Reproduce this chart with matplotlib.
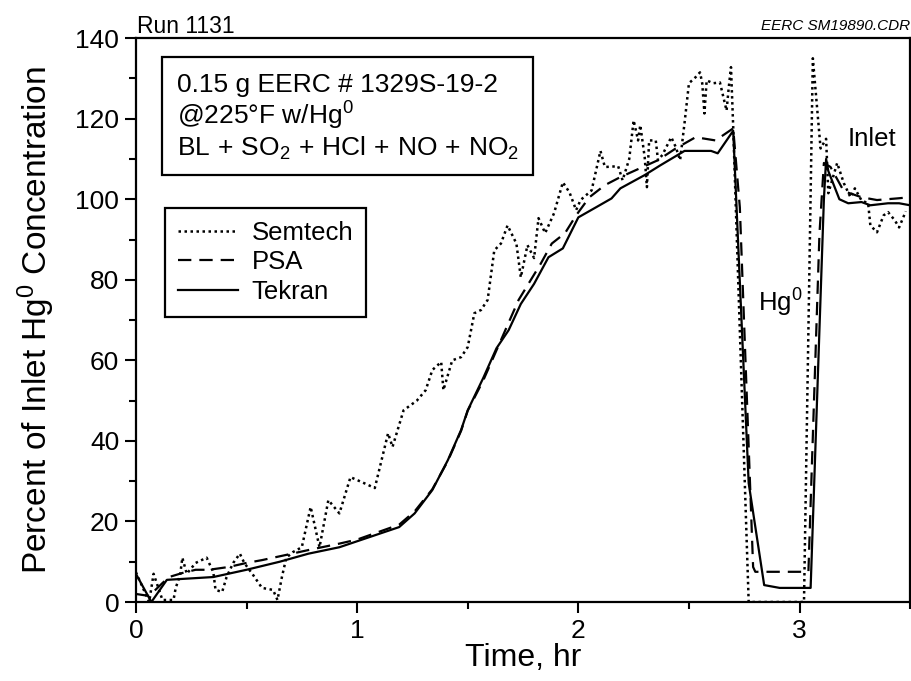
import matplotlib
matplotlib.use('Agg')
import matplotlib.pyplot as plt
from matplotlib.patches import Rectangle
from matplotlib.ticker import MultipleLocator

plt.rcParams['font.family'] = ['Liberation Sans', 'DejaVu Sans']
plt.rcParams['mathtext.fontset'] = 'custom'
plt.rcParams['mathtext.rm'] = 'Liberation Sans'
plt.rcParams['mathtext.it'] = 'Liberation Sans:italic'

# Semtech (dotted)
semtech_t = [0.0, 0.06, 0.08, 0.12, 0.17, 0.18, 0.2, 0.21, 0.23, 0.27,
             0.32, 0.35, 0.36, 0.39, 0.41, 0.44, 0.47, 0.49, 0.53, 0.57,
             0.62, 0.64, 0.66, 0.68, 0.71, 0.75, 0.79, 0.83, 0.87, 0.92,
             0.97, 1.02, 1.08, 1.14, 1.16, 1.21, 1.27, 1.31, 1.34, 1.38,
             1.39, 1.43, 1.47, 1.50, 1.53, 1.56, 1.59, 1.62, 1.65, 1.68,
             1.72, 1.74, 1.77, 1.80, 1.82, 1.85, 1.89, 1.93, 1.96, 1.99,
             2.01, 2.06, 2.10, 2.12, 2.18, 2.20, 2.23, 2.25, 2.27, 2.28,
             2.30, 2.31, 2.32, 2.35, 2.36, 2.38, 2.42, 2.44, 2.46, 2.48,
             2.50, 2.53, 2.55, 2.56, 2.57, 2.58, 2.61, 2.64, 2.67, 2.68,
             2.69, 2.70, 2.77, 3.02, 3.06, 3.095, 3.12, 3.13, 3.17, 3.20,
             3.23, 3.25, 3.28, 3.31, 3.32, 3.35, 3.38, 3.40, 3.43, 3.45,
             3.48]
semtech_pct = [7.4, 0, 7, 0.5, 0.5, 3.5, 6.7, 11, 7, 9.7,
               11, 7.4, 3, 2.5, 6.2, 9.7, 12, 9.7, 6.7, 3.5,
               3, 0.5, 6.2, 11, 12.4, 13.6, 23.6, 13.6, 25.3, 22,
               31, 29.8, 28.3, 41.9, 38.5, 47.6, 50, 52.6, 57.6, 59.6,
               52.6, 60, 60.8, 63.3, 71.7, 72.5, 75, 87.3, 89, 93.5,
               89, 80.6, 88.6, 85.4, 95.3, 91.6, 96.5, 104.2, 101.7, 97.3,
               99.8, 102.2, 112, 108, 108.2, 104.7, 110, 119.6, 114.6, 118.4,
               110.4, 103, 114.6, 114.6, 109.7, 111, 115.4, 113, 109.7, 118.9,
               128.8, 130.3, 131.5, 128.8, 121.3, 129.5, 128.8, 129, 122, 127.8,
               132.8, 118, 0, 0, 135, 112.6, 115, 101.5, 109, 104,
               100.5, 102.7, 99.7, 99, 93.5, 91.8, 96, 96.8, 94.8, 93,
               97]

# PSA (dashed)
psa_t = [0.0, 0.06, 0.12, 0.15, 0.21, 0.27, 0.33, 0.42, 0.5, 0.57,
         0.68, 0.78, 0.92, 1.0, 1.19, 1.26, 1.34, 1.41, 1.47, 1.50,
         1.57, 1.65, 1.73, 1.83, 1.88, 1.94, 1.99, 2.05, 2.12, 2.19,
         2.36, 2.44, 2.53, 2.62, 2.70, 2.73, 2.79, 2.80, 3.04, 3.09,
         3.11, 3.14, 3.20, 3.28, 3.35, 3.44, 3.5]
psa_pct = [2, 1.5, 4.7, 6.2, 7.2, 8, 8, 8.7, 9.7, 10.4,
           11.7, 12.9, 14.5, 15.5, 19.2, 22.5, 28, 35, 42.5, 47.5,
           55, 65, 75, 84, 89, 91.6, 96, 100.5, 103.5, 105.5,
           109.7, 112.6, 115.4, 114.6, 117.6, 98, 8.7, 7.5, 7.5, 91.5,
           109, 108, 102, 100.5, 99.8, 100.2, 100.5]

# Tekran (solid)
tekran_t = [0.0, 0.07, 0.14, 0.35, 0.5, 0.65, 0.78, 0.92, 1.19, 1.26,
            1.34, 1.41, 1.47, 1.50, 1.57, 1.63, 1.685, 1.74, 1.80, 1.865,
            1.93, 2.0, 2.08, 2.15, 2.19, 2.30, 2.37, 2.48, 2.60, 2.63,
            2.70, 2.77, 2.84, 2.91, 3.05, 3.11, 3.12, 3.13, 3.18, 3.22,
            3.28, 3.32, 3.40, 3.45, 3.5]
tekran_pct = [7, 0, 5.5, 6.2, 8, 10, 12, 13.6, 18.6, 22,
              27.8, 35.2, 42.7, 47.6, 55.6, 63, 67.5, 74, 79, 85.6,
              87.8, 95.5, 98, 100.2, 102.7, 106, 108.4, 112, 112, 111.4,
              117, 29.5, 4.2, 3.5, 3.5, 100, 110, 107, 100, 99,
              99.3, 98.5, 99, 99, 98.5]

box_lines = ['0.15 g EERC # 1329S-19-2',
             r'@225°F w/Hg$^0$',
             r'BL$\,+\,$SO$_2$$\,+\,$HCl$\,+\,$NO$\,+\,$NO$_2$']

fig = plt.figure(figsize=(9.12, 6.81), dpi=100)
ax = fig.add_axes([0.149, 0.116, 0.849, 0.828])

ax.plot(semtech_t, semtech_pct, color='black', linestyle=(0, (1, 1.4)), linewidth=1.8, label='Semtech')
ax.plot(psa_t, psa_pct, color='black', linestyle=(0, (6, 3.6)), linewidth=1.6, label='PSA')
ax.plot(tekran_t, tekran_pct, color='black', linestyle='-', linewidth=1.6, label='Tekran')

ax.set_xlim(0, 3.5)
ax.set_ylim(0, 140)
ax.xaxis.set_major_locator(MultipleLocator(1))
ax.xaxis.set_minor_locator(MultipleLocator(0.5))
ax.yaxis.set_major_locator(MultipleLocator(20))
ax.yaxis.set_minor_locator(MultipleLocator(10))
ax.tick_params(which='major', direction='out', length=8, width=1.5, labelsize=19, pad=4)
ax.tick_params(which='minor', direction='out', length=5, width=1.5)
for s in ax.spines.values():
    s.set_linewidth(1.6)

ax.set_xlabel('Time, hr', fontsize=23, labelpad=0)
ax.set_ylabel(r'Percent of Inlet Hg$^0$ Concentration', fontsize=24, labelpad=13)

# condition box
ax.add_patch(Rectangle((0.034, 0.757), 0.479, 0.209, transform=ax.transAxes,
                       facecolor='white', edgecolor='black', linewidth=1.6, zorder=5))
for line, yb in zip(box_lines, [0.904, 0.8475, 0.791]):
    ax.text(0.053, yb, line, transform=ax.transAxes, fontsize=19, va='baseline', ha='left', zorder=6)

leg = ax.legend(loc='upper left', bbox_to_anchor=(0.0375, 0.699), fontsize=18.5, frameon=True,
                fancybox=False, framealpha=1, edgecolor='black', handlelength=2.33,
                borderpad=0.5, labelspacing=0.22, handletextpad=0.55, borderaxespad=0)
leg.get_frame().set_linewidth(1.6)

ax.text(2.811, 72.0, r'Hg$^0$', fontsize=18.5, ha='left', va='baseline')
ax.text(3.216, 113.2, 'Inlet', fontsize=18.5, ha='left', va='baseline')

fig.text(137 / 912, 1 - 33 / 681, 'Run 1131', fontsize=16.5, ha='left', va='baseline')
fig.text(910 / 912, 1 - 30 / 681, 'EERC SM19890.CDR', fontsize=11, style='italic',
         ha='right', va='baseline')

assert len(semtech_t) == len(semtech_pct)
assert len(psa_t) == len(psa_pct)
assert len(tekran_t) == len(tekran_pct)

plt.savefig('out.png', dpi=100)
